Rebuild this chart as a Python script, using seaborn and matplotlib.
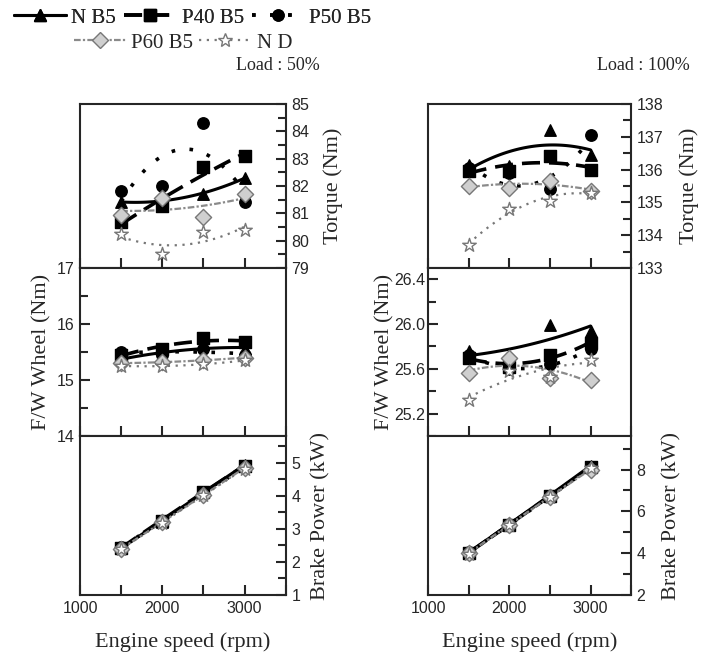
import matplotlib
matplotlib.use("Agg")
import matplotlib.pyplot as plt
from matplotlib.lines import Line2D
from matplotlib.ticker import MultipleLocator, FuncFormatter, FormatStrFormatter
import pandas as pd
import seaborn as sns

# engine speeds (rpm)
speeds = [1500, 2000, 2500, 3000]
fuels = ["N B5", "P40 B5", "P50 B5", "P60 B5", "N D"]

# Torque (Nm), load 50%
torque50_nb5 = [81.4, 81.5, 81.7, 82.3]
torque50_p40 = [80.7, 81.25, 82.7, 83.1]
torque50_p50 = [81.8, 82.0, 84.3, 81.4]
torque50_p60 = [80.95, 81.55, 80.85, 81.7]
torque50_nd = [80.25, 79.5, 80.3, 80.4]

# Torque (Nm), load 100%
torque100_nb5 = [136.15, 136.1, 137.2, 136.45]
torque100_p40 = [135.95, 135.95, 136.4, 136.0]
torque100_p50 = [136.05, 135.9, 135.4, 137.05]
torque100_p60 = [135.5, 135.45, 135.65, 135.35]
torque100_nd = [133.7, 134.8, 135.05, 135.3]

# F/W wheel torque (Nm), load 50%
fw50_nb5 = [15.4, 15.4, 15.65, 15.55]
fw50_p40 = [15.45, 15.55, 15.75, 15.68]
fw50_p50 = [15.5, 15.45, 15.55, 15.45]
fw50_p60 = [15.3, 15.32, 15.35, 15.4]
fw50_nd = [15.25, 15.25, 15.28, 15.35]

# F/W wheel torque (Nm), load 100%
fw100_nb5 = [25.76, 25.65, 25.99, 25.94]
fw100_p40 = [25.7, 25.62, 25.72, 25.83]
fw100_p50 = [25.72, 25.6, 25.64, 25.78]
fw100_p60 = [25.56, 25.7, 25.52, 25.5]
fw100_nd = [25.32, 25.58, 25.53, 25.68]

# Brake power (kW), load 50%
power50_nb5 = [2.42, 3.22, 4.12, 4.92]
power50_p40 = [2.43, 3.25, 4.12, 4.9]
power50_p50 = [2.44, 3.23, 4.07, 4.86]
power50_p60 = [2.4, 3.2, 4.02, 4.84]
power50_nd = [2.39, 3.19, 4.01, 4.82]

# Brake power (kW), load 100%
power100_nb5 = [4.05, 5.37, 6.8, 8.17]
power100_p40 = [4.03, 5.36, 6.75, 8.1]
power100_p50 = [4.04, 5.36, 6.72, 8.1]
power100_p60 = [4.0, 5.37, 6.69, 8.0]
power100_nd = [3.98, 5.35, 6.7, 8.05]

panels = {
    ("50", "torque"): [torque50_nb5, torque50_p40, torque50_p50, torque50_p60, torque50_nd],
    ("100", "torque"): [torque100_nb5, torque100_p40, torque100_p50, torque100_p60, torque100_nd],
    ("50", "fw"): [fw50_nb5, fw50_p40, fw50_p50, fw50_p60, fw50_nd],
    ("100", "fw"): [fw100_nb5, fw100_p40, fw100_p50, fw100_p60, fw100_nd],
    ("50", "power"): [power50_nb5, power50_p40, power50_p50, power50_p60, power50_nd],
    ("100", "power"): [power100_nb5, power100_p40, power100_p50, power100_p60, power100_nd],
}

rows = []
for (load, qty), series in panels.items():
    for fuel, vals in zip(fuels, series):
        for s, v in zip(speeds, vals):
            rows.append({"Load": load, "Quantity": qty, "Fuel": fuel, "Speed": s, "Value": v})
df = pd.DataFrame(rows)

sns.set_theme(style="ticks")
plt.rcParams["font.family"] = ["Liberation Sans", "DejaVu Sans"]
plt.rcParams["axes.linewidth"] = 1.5

# marker / line styles per fuel
styles = {
    "N B5": dict(marker="^", face="black", edge="black", color="black", ls="-", lw=2.2),
    "P40 B5": dict(marker="s", face="black", edge="black", color="black", ls=(0, (5, 2.5)), lw=2.6),
    "P50 B5": dict(marker="o", face="black", edge="black", color="black", ls=(0, (1, 4)), lw=2.6),
    "P60 B5": dict(marker="D", face="#cfcfcf", edge="#777777", color="#8a8a8a", ls=(0, (3, 1, 1, 1)), lw=1.6),
    "N D": dict(marker="*", face="white", edge="#777777", color="#777777", ls=(0, (1, 2.5)), lw=1.6),
}

serif = ["Liberation Serif", "DejaVu Serif"]

fig = plt.figure(figsize=(7.02, 6.61), dpi=100)

col_left = {"50": 0.114, "100": 0.610}
col_width = {"50": 0.293, "100": 0.289}
row_pos = {"torque": (0.5946, 0.2481), "fw": (0.3404, 0.2542), "power": (0.0998, 0.2405)}

ylims = {
    ("50", "torque"): (79, 85), ("100", "torque"): (133, 138),
    ("50", "fw"): (14, 17), ("100", "fw"): (25.0, 26.5),
    ("50", "power"): (1, 5.8), ("100", "power"): (2, 9.6),
}
ysteps = {
    ("50", "torque"): (1, 0.5), ("100", "torque"): (1, 0.5),
    ("50", "fw"): (1, 0.5), ("100", "fw"): (0.4, 0.2),
    ("50", "power"): (1, 0.5), ("100", "power"): (2, 1),
}
ylabels = {"torque": "Torque (Nm)", "fw": "F/W Wheel (Nm)", "power": "Brake Power (kW)"}
# label x positions in axes coordinates
label_x = {
    ("50", "torque"): 1.184, ("100", "torque"): 1.236,
    ("50", "fw"): -0.141, ("100", "fw"): -0.168,
    ("50", "power"): 1.126, ("100", "power"): 1.153,
}

for (load, qty) in panels:
    b, h = row_pos[qty]
    ax = fig.add_axes([col_left[load], b, col_width[load], h])
    sub = df[(df["Load"] == load) & (df["Quantity"] == qty)]
    for fuel in fuels:
        st = styles[fuel]
        d = sub[sub["Fuel"] == fuel]
        sns.regplot(
            data=d, x="Speed", y="Value", order=2, ci=None, ax=ax,
            marker=st["marker"], color=st["color"],
            scatter_kws=dict(s=105 if st["marker"] == "*" else 68, facecolors=st["face"],
                             edgecolors=st["edge"], linewidths=1.0, alpha=1, zorder=3),
            line_kws=dict(linestyle=st["ls"], linewidth=st["lw"], zorder=2),
        )
    ax.set_xlim(1000, 3500)
    ax.set_ylim(*ylims[(load, qty)])
    ax.xaxis.set_major_locator(MultipleLocator(500))
    ax.yaxis.set_major_locator(MultipleLocator(ysteps[(load, qty)][0]))
    ax.yaxis.set_minor_locator(MultipleLocator(ysteps[(load, qty)][1]))
    ax.tick_params(which="both", direction="in", width=1.5, labelsize=11.5, pad=4)
    ax.tick_params(which="major", length=7)
    ax.tick_params(which="minor", length=6)
    ax.tick_params(axis="x", top=False)
    ax.set_ylabel("")
    ax.set_xlabel("")

    if qty == "fw":
        ax.tick_params(axis="y", which="both", left=True, right=False, labelleft=True, labelright=False)
        if load == "100":
            ax.set_yticks([25.2, 25.6, 26.0, 26.4])
            ax.yaxis.set_major_formatter(FormatStrFormatter("%.1f"))
            ax.tick_params(axis="y", pad=2)
        ax.set_ylabel(ylabels[qty], family=serif, fontsize=16)
    else:
        ax.tick_params(axis="y", which="both", left=False, right=True, labelleft=False, labelright=True)
        ax.yaxis.set_label_position("right")
        ax.set_ylabel(ylabels[qty], family=serif, fontsize=16)
    ax.yaxis.set_label_coords(label_x[(load, qty)], 0.5)

    if qty == "power":
        ax.xaxis.set_major_formatter(FuncFormatter(lambda v, p: f"{int(v)}" if v % 1000 == 0 else ""))
        ax.set_xlabel("Engine speed (rpm)", family=serif, fontsize=16, labelpad=12)
    else:
        ax.tick_params(axis="x", labelbottom=False)

fig.text(0.396, 1 - 66 / 661, "Load : 50%", family=serif, fontsize=13, ha="center", va="center")
fig.text(0.916, 1 - 66 / 661, "Load : 100%", family=serif, fontsize=13, ha="center", va="center")

handles = {}
for fuel in fuels:
    st = styles[fuel]
    handles[fuel] = Line2D([], [], color=st["color"], linestyle=st["ls"], linewidth=st["lw"],
                           marker=st["marker"], markerfacecolor=st["face"], markeredgecolor=st["edge"],
                           markersize=10 if st["marker"] == "*" else 8)

leg_font = {"family": serif, "size": 15}
leg1 = fig.legend([handles[f] for f in fuels[:3]], fuels[:3], ncol=3, loc="center left",
                  bbox_to_anchor=(0.02, 1 - 18 / 661), frameon=False, prop=leg_font,
                  handlelength=2.5, handletextpad=0.25, columnspacing=0.4, borderpad=0, borderaxespad=0)
fig.add_artist(leg1)
fig.legend([handles[f] for f in fuels[3:]], fuels[3:], ncol=2, loc="center left",
           bbox_to_anchor=(0.105, 1 - 43 / 661), frameon=False, prop=leg_font,
           handlelength=2.5, handletextpad=0.25, columnspacing=0.3, borderpad=0, borderaxespad=0)

fig.savefig("out.png", dpi=100)
